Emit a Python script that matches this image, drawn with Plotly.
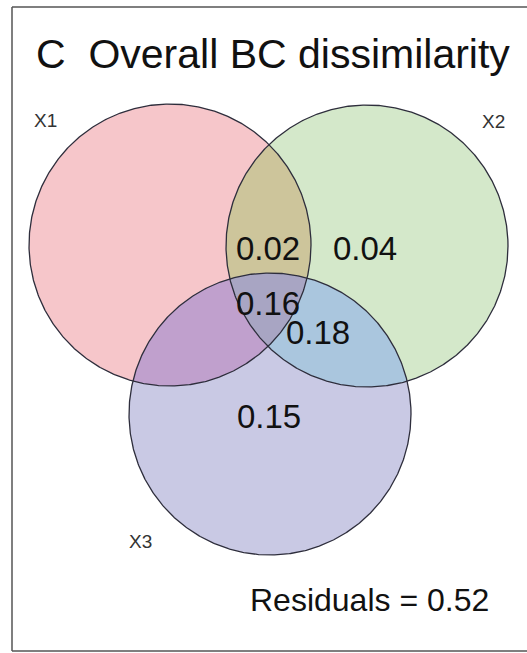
import numpy as np
import plotly.graph_objects as go

# ---- data ----
set_names = ["X1", "X2", "X3"]
region_names = ["X1&X2", "X2", "X1&X2&X3", "X2&X3", "X3"]
region_values = [0.02, 0.04, 0.16, 0.18, 0.15]
residuals = 0.52
title_text = "C  Overall BC dissimilarity"

# ---- layout geometry (pixel-like coordinates, y downward) ----
W, H = 527, 653
cx = [170, 367, 270]
cy = [245, 246, 414]
cr = [141, 141, 141]

region_fill = {
    (0,): "#f6c6ca",
    (1,): "#d4e8ca",
    (2,): "#c9c9e4",
    (0, 1): "#cdc59b",
    (0, 2): "#c0a0cd",
    (1, 2): "#aac6de",
    (0, 1, 2): "#a8a5c3",
}
set_label_pos = [(45, 120), (493, 121), (140, 541)]
region_label_pos = {
    "X1&X2": (268, 248),
    "X2": (365, 248),
    "X1&X2&X3": (268, 303),
    "X2&X3": (318, 332),
    "X3": (269, 416),
}

def circle_pts(i, n=720):
    t = np.linspace(0, 2 * np.pi, n)
    return cx[i] + cr[i] * np.cos(t), cy[i] + cr[i] * np.sin(t)

def region_poly(idx):
    xs, ys = [], []
    for i in idx:
        x, y = circle_pts(i, 2000)
        mask = np.ones_like(x, dtype=bool)
        for j in idx:
            if j == i:
                continue
            mask &= (x - cx[j]) ** 2 + (y - cy[j]) ** 2 <= cr[j] ** 2 + 1e-6
        xs.append(x[mask]); ys.append(y[mask])
    x = np.concatenate(xs); y = np.concatenate(ys)
    mx, my = x.mean(), y.mean()
    order = np.argsort(np.arctan2(y - my, x - mx))
    x = np.append(x[order], x[order][0]); y = np.append(y[order], y[order][0])
    return x, y

fig = go.Figure()

for idx in [(0,), (1,), (2,), (0, 1), (0, 2), (1, 2), (0, 1, 2)]:
    if len(idx) == 1:
        x, y = circle_pts(idx[0])
    else:
        x, y = region_poly(idx)
    fig.add_trace(go.Scatter(x=x, y=y, mode="lines", fill="toself",
                             fillcolor=region_fill[idx], line=dict(width=0),
                             hoverinfo="skip", showlegend=False))

for i in range(3):
    x, y = circle_pts(i)
    fig.add_trace(go.Scatter(x=x, y=y, mode="lines",
                             line=dict(color="#2e2e3c", width=1.3),
                             hoverinfo="skip", showlegend=False))

FONT = "Liberation Sans, Arial"
ann = []
ann.append(dict(x=34, y=54, text=title_text, showarrow=False, xanchor="left",
                yanchor="middle", font=dict(size=41, color="#111", family=FONT)))
for name, (lx, ly) in zip(set_names, set_label_pos):
    ann.append(dict(x=lx, y=ly, text=name, showarrow=False, xanchor="center",
                    yanchor="middle", font=dict(size=19, color="#333", family=FONT)))
for name, val in zip(region_names, region_values):
    lx, ly = region_label_pos[name]
    ann.append(dict(x=lx, y=ly, text=f"{val:.2f}", showarrow=False, xanchor="center",
                    yanchor="middle", font=dict(size=33, color="#111", family=FONT)))
ann.append(dict(x=369, y=600, text=f"Residuals = {residuals:.2f}", showarrow=False,
                xanchor="center", yanchor="middle",
                font=dict(size=32, color="#111", family=FONT)))

frame = dict(color="#555", width=1.5)
shapes = [
    dict(type="line", xref="x", yref="y", x0=12, y0=7, x1=12, y1=651, line=frame),
    dict(type="line", xref="x", yref="y", x0=12, y0=7, x1=W, y1=7, line=frame),
    dict(type="line", xref="x", yref="y", x0=12, y0=651, x1=W, y1=651, line=frame),
]

fig.update_layout(
    width=W, height=H, margin=dict(l=0, r=0, t=0, b=0),
    paper_bgcolor="white", plot_bgcolor="white",
    xaxis=dict(range=[0, W], visible=False, fixedrange=True),
    yaxis=dict(range=[H, 0], visible=False, fixedrange=True),
    annotations=ann, shapes=shapes,
)
fig.write_html("out.html", config={"displayModeBar": False},
               post_script="document.body.style.margin='0';document.body.style.overflow='hidden';")
